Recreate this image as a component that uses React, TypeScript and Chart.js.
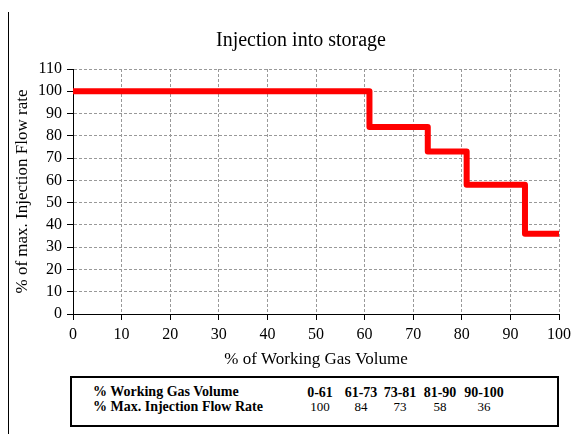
import React, { useEffect, useRef } from "react";
import { Chart, registerables } from "chart.js";

Chart.register(...registerables);

// ---- data ----
const stepX = [0, 61, 73, 81, 93, 100];
const stepY = [100, 84, 73, 58, 36, 36];
const xTicksMin = 0;
const xTicksMax = 100;
const yTicksMin = 0;
const yTicksMax = 110;
const tableRanges = ["0-61", "61-73", "73-81", "81-90", "90-100"];
const tableRates = [100, 84, 73, 58, 36];
const titleText = "Injection into storage";
const xTitle = "% of Working Gas Volume";
const yTitle = "% of max. Injection Flow rate";
const rowLabel1 = "% Working Gas Volume";
const rowLabel2 = "% Max. Injection Flow Rate";

// ---- layout (not data) ----
const COL_CENTERS = [320, 361, 400, 440, 484];
const FONT = "'Liberation Serif', 'Times New Roman', serif";

export default function App() {
  const canvasRef = useRef<HTMLCanvasElement | null>(null);

  useEffect(() => {
    if (!canvasRef.current) return;
    const chart = new Chart(canvasRef.current, {
      type: "line",
      data: {
        datasets: [
          {
            data: stepX.map((x, i) => ({ x, y: stepY[i] })),
            borderColor: "#ff0000",
            borderWidth: 6,
            stepped: "before",
            pointRadius: 0,
            fill: false,
            borderJoinStyle: "round",
            borderCapStyle: "butt",
          },
        ],
      },
      options: {
        animation: false,
        responsive: false,
        layout: { padding: { left: 0, right: 29, top: 69, bottom: 0 } },
        plugins: {
          legend: { display: false },
          tooltip: { enabled: false },
          title: { display: false },
        },
        scales: {
          x: {
            type: "linear",
            min: xTicksMin,
            max: xTicksMax,
            ticks: {
              stepSize: 10,
              color: "#000",
              font: { family: FONT, size: 16 },
              padding: 5,
              maxRotation: 0,
            },
            grid: {
              color: "#999",
              lineWidth: 1,
              tickColor: "#000",
              tickLength: 6,
              tickBorderDash: [],
            },
            border: { color: "#000", width: 1, dash: [3, 2] },
            title: {
              display: true,
              text: xTitle,
              color: "#000",
              font: { family: FONT, size: 17 },
              padding: { top: 0, bottom: 0 },
            },
            afterFit: (s: any) => {
              s.height = 56;
            },
          },
          y: {
            type: "linear",
            min: yTicksMin,
            max: yTicksMax,
            ticks: {
              stepSize: 10,
              color: "#000",
              font: { family: FONT, size: 16 },
              padding: 5,
            },
            grid: {
              color: "#999",
              lineWidth: 1,
              tickColor: "#000",
              tickLength: 6,
              tickBorderDash: [],
            },
            border: { color: "#000", width: 1, dash: [3, 2] },
            title: {
              display: true,
              text: yTitle,
              color: "#000",
              font: { family: FONT, size: 17 },
              padding: { top: 12, bottom: 0 },
            },
            afterFit: (s: any) => {
              s.width = 73;
            },
          },
        },
      },
    } as any);
    return () => chart.destroy();
  }, []);

  return (
    <div
      style={{
        position: "absolute",
        left: 0,
        top: 0,
        width: 588,
        height: 434,
        background: "#fff",
        fontFamily: FONT,
        color: "#000",
        overflow: "hidden",
      }}
    >
      <div
        style={{
          position: "absolute",
          left: 8,
          top: 12,
          width: 0,
          height: 422,
          borderLeft: "1.5px solid #000",
        }}
      />
      <canvas
        ref={canvasRef}
        width={588}
        height={370}
        style={{ position: "absolute", left: 0, top: 0, width: 588, height: 370 }}
      />
      <div
        style={{
          position: "absolute",
          left: 151,
          width: 300,
          top: 27,
          textAlign: "center",
          fontSize: 20,
          lineHeight: "24px",
          whiteSpace: "nowrap",
        }}
      >
        {titleText}
      </div>
      <div
        style={{
          position: "absolute",
          left: 70,
          top: 376,
          width: 489,
          height: 51,
          border: "2px solid #000",
          boxSizing: "border-box",
        }}
      />
      <div
        style={{
          position: "absolute",
          left: 93,
          top: 384,
          fontWeight: "bold",
          fontSize: 14,
          lineHeight: "15px",
          whiteSpace: "nowrap",
        }}
      >
        <div>{rowLabel1}</div>
        <div>{rowLabel2}</div>
      </div>
      {tableRanges.map((r, i) => (
        <div
          key={"r" + i}
          style={{
            position: "absolute",
            left: COL_CENTERS[i] - 40,
            width: 80,
            textAlign: "center",
            top: 385,
            fontWeight: "bold",
            fontSize: 14,
            lineHeight: "15px",
            whiteSpace: "nowrap",
          }}
        >
          {r}
        </div>
      ))}
      {tableRates.map((v, i) => (
        <div
          key={"v" + i}
          style={{
            position: "absolute",
            left: COL_CENTERS[i] - 40,
            width: 80,
            textAlign: "center",
            top: 399,
            fontSize: 13,
            lineHeight: "15px",
            whiteSpace: "nowrap",
          }}
        >
          {v}
        </div>
      ))}
    </div>
  );
}
